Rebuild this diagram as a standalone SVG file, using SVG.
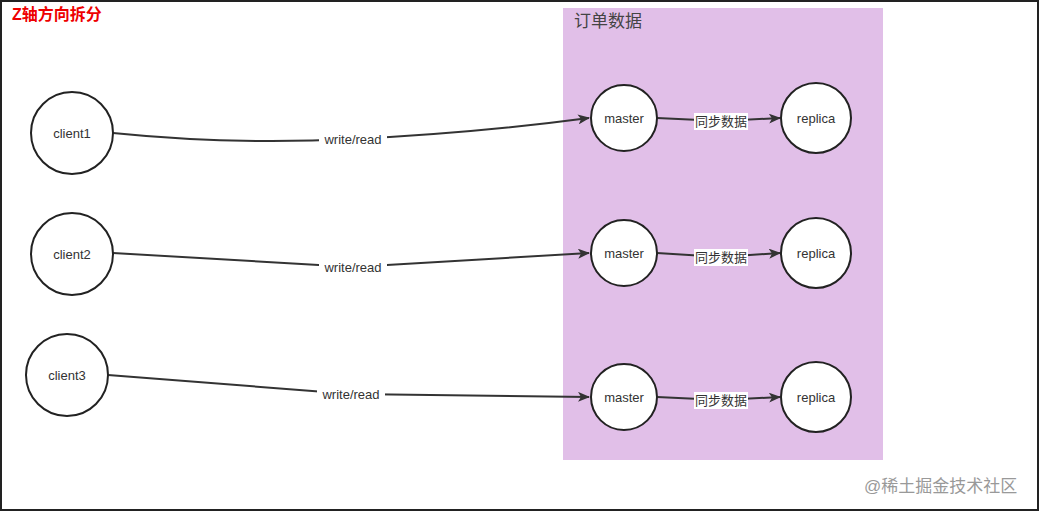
<svg xmlns="http://www.w3.org/2000/svg" width="1040" height="512" viewBox="0 0 1040 512">
<style>
.n{fill:#fff;stroke:#222;stroke-width:2}
.t{font-family:"Liberation Sans","Noto Sans CJK SC",sans-serif;font-size:13px;fill:#333;text-anchor:middle}
.e{fill:none;stroke:#333;stroke-width:2;marker-end:url(#a)}
.lb{fill:#fff}
</style>
<defs><marker id="a" markerWidth="12" markerHeight="10" refX="11" refY="5" orient="auto" markerUnits="userSpaceOnUse"><path d="M0,0 L12,5 L0,10 L3,5 Z" fill="#333"/></marker></defs>
<rect x="0" y="0" width="1040" height="512" fill="#fff"/>
<rect x="1" y="1" width="1037" height="509" fill="none" stroke="#222" stroke-width="2"/>
<text x="12" y="20" font-family="'Liberation Sans','Noto Sans CJK SC',sans-serif" font-size="16" font-weight="bold" fill="#e00">Z轴方向拆分</text>
<rect x="563" y="8" width="320" height="452" fill="#e1bfe8"/>
<text x="574" y="27" font-family="'Liberation Sans','Noto Sans CJK SC',sans-serif" font-size="17" fill="#444">订单数据</text>
<g id="connectors">
<path class="e" d="M113,133 Q230,145 353,139 T589,118"/>
<path class="e" d="M113,253 L353,267 L589,253"/>
<path class="e" d="M108,375 L351,394 L589,397"/>
<path class="e" d="M657,118 L721,121 L780,118"/>
<path class="e" d="M657,253 L721,257 L780,253"/>
<path class="e" d="M657,397 L721,400 L780,397"/>
<rect class="lb" x="319" y="131" width="68" height="16"/><text class="t" x="353" y="144">write/read</text>
<rect class="lb" x="319" y="260" width="68" height="16"/><text class="t" x="353" y="272">write/read</text>
<rect class="lb" x="317" y="387" width="68" height="16"/><text class="t" x="351" y="399">write/read</text>
<rect class="lb" x="694" y="113" width="54" height="17"/><text class="t" x="721" y="126">同步数据</text>
<rect class="lb" x="694" y="249" width="54" height="17"/><text class="t" x="721" y="262">同步数据</text>
<rect class="lb" x="694" y="392" width="54" height="17"/><text class="t" x="721" y="405">同步数据</text>
</g>
<g id="client1"><circle class="n" cx="72" cy="133" r="41"/><text class="t" x="72" y="138">client1</text></g>
<g id="client2"><circle class="n" cx="72" cy="254" r="41"/><text class="t" x="72" y="259">client2</text></g>
<g id="client3"><circle class="n" cx="67" cy="375" r="41"/><text class="t" x="67" y="380">client3</text></g>
<g id="master1"><circle class="n" cx="624" cy="118" r="33"/><text class="t" x="624" y="123">master</text></g>
<g id="master2"><circle class="n" cx="624" cy="253" r="33"/><text class="t" x="624" y="258">master</text></g>
<g id="master3"><circle class="n" cx="624" cy="397" r="33"/><text class="t" x="624" y="402">master</text></g>
<g id="replica1"><circle class="n" cx="816" cy="118" r="35"/><text class="t" x="816" y="123">replica</text></g>
<g id="replica2"><circle class="n" cx="816" cy="253" r="35"/><text class="t" x="816" y="258">replica</text></g>
<g id="replica3"><circle class="n" cx="816" cy="397" r="35"/><text class="t" x="816" y="402">replica</text></g>
<text x="864" y="492" font-family="'Liberation Sans','Noto Sans CJK SC',sans-serif" font-size="17" fill="#999">@稀土掘金技术社区</text>
</svg>
